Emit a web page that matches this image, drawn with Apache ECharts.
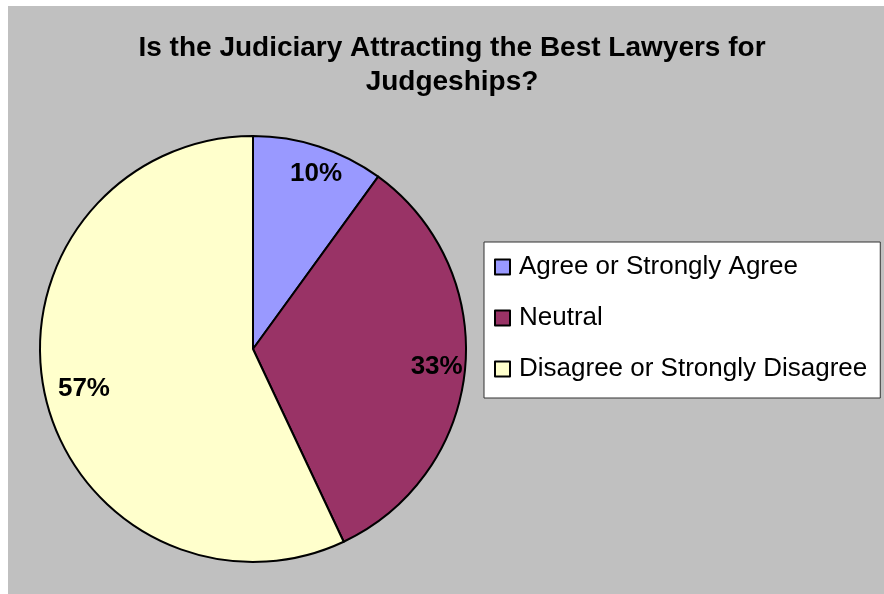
<!DOCTYPE html>
<html>
<head>
<meta charset="utf-8">
<script src="https://cdn.jsdelivr.net/npm/echarts@6/dist/echarts.min.js"></script>
<style>
    * { margin: 0; padding: 0; }
    body { background: #fff; }
    #main { width: 884px; height: 594px; }
</style>
</head>
<body>
<div id="main"></div>
<script>
    // 数据
    var categories = ['Agree or Strongly Agree', 'Neutral', 'Disagree or Strongly Disagree'];
    var values = [10, 33, 57];
    var colors = ['#9999ff', '#993366', '#ffffcc'];
    // 标签微调 (Excel 的 best fit 位置)
    var labelNudge = [[6, 0], [0, 0], [11, 0]];

    var pieData = categories.map(function (name, i) {
        return { name: name, value: values[i], itemStyle: { color: colors[i] } };
    });

    var chart = echarts.init(document.getElementById('main'));
    chart.setOption({
        backgroundColor: '#ffffff',
        animation: false,
        graphic: [{
            type: 'rect',
            z: -10,
            shape: { x: 8, y: 6, width: 876, height: 588 },
            style: { fill: '#c0c0c0' }
        }],
        title: {
            text: 'Is the Judiciary Attracting the Best Lawyers for\nJudgeships?',
            left: 447,
            textAlign: 'center',
            top: 26,
            textStyle: {
                fontFamily: 'Liberation Sans, Arial',
                fontSize: 28,
                fontWeight: 'bold',
                color: '#000',
                lineHeight: 34
            }
        },
        legend: {
            orient: 'vertical',
            left: 484,
            top: 242,
            data: categories,
            backgroundColor: '#fff',
            borderColor: '#333',
            borderWidth: 1,
            borderRadius: 0,
            padding: [12, 13, 16, 10],
            itemWidth: 15,
            itemHeight: 15,
            itemGap: 25,
            icon: 'rect',
            textStyle: {
                fontFamily: 'Liberation Sans, Arial',
                fontSize: 26,
                color: '#000',
                lineHeight: 26,
                padding: [0, 0, 0, 4]
            }
        },
        series: [{
            name: 'pie',
            type: 'pie',
            center: [253, 349],
            radius: [0, 213],
            startAngle: 90,
            clockwise: true,
            itemStyle: { borderColor: '#000', borderWidth: 2 },
            label: { show: false },
            labelLine: { show: false },
            emphasis: { disabled: true },
            data: pieData
        }, {
            // 只用于放置百分比标签
            name: 'labels',
            type: 'pie',
            center: [253, 349],
            radius: [150, 213],
            startAngle: 90,
            clockwise: true,
            silent: true,
            legendHoverLink: false,
            itemStyle: { color: 'rgba(0,0,0,0)', borderWidth: 0 },
            label: {
                show: true,
                position: 'inside',
                formatter: '{c}%',
                fontFamily: 'Liberation Sans, Arial',
                fontSize: 26,
                fontWeight: 'bold',
                color: '#000'
            },
            labelLine: { show: false },
            data: categories.map(function (name, i) {
                return { name: name + ' ', value: values[i], label: { offset: labelNudge[i] } };
            })
        }]
    });
</script>
</body>
</html>
